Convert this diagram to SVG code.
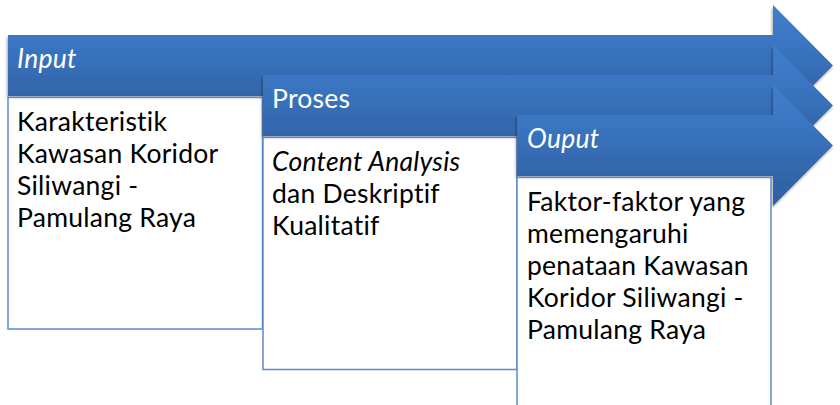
<svg xmlns="http://www.w3.org/2000/svg" width="840" height="405" viewBox="0 0 840 405">
  <defs>
    <linearGradient id="blueGrad" x1="0" y1="0" x2="0" y2="1">
      <stop offset="0" stop-color="#3F7ECC"/>
      <stop offset="0.3" stop-color="#3A76C3"/>
      <stop offset="0.7" stop-color="#3467AC"/>
      <stop offset="1" stop-color="#2F5F9F"/>
    </linearGradient>
    <filter id="shadow" x="-5%" y="-10%" width="110%" height="130%">
      <feDropShadow dx="-1" dy="2" stdDeviation="1.5" flood-color="#000" flood-opacity="0.35"/>
    </filter>
    <style>
      .arrow { fill: url(#blueGrad); filter: url(#shadow); }
      .box { fill: #FFFFFF; stroke: #5B8BCA; stroke-width: 1.5; }
      .head, .body { font-family: Lato, "Open Sans", sans-serif; font-size: 26.5px; letter-spacing: 0.25px; font-variant-ligatures: none; font-feature-settings: "liga" 0, "clig" 0; }
      .head { fill: #FFFFFF; }
      .body { fill: #000000; }
      .it { font-style: italic; }
    </style>
  </defs>

  <g id="input">
    <path class="arrow" d="M8,35 H773 V5 L833,65.5 L773,126 V96 H8 Z"/>
    <rect class="box" x="8" y="97.5" width="254.5" height="231.5"/>
    <text class="head it" x="17" y="68">Input</text>
    <text class="body" x="17" y="131">
      <tspan x="17" y="131">Karakteristik</tspan>
      <tspan x="17" y="163">Kawasan Koridor</tspan>
      <tspan x="17" y="195">Siliwangi -</tspan>
      <tspan x="17" y="227">Pamulang Raya</tspan>
    </text>
  </g>

  <g id="proses">
    <path class="arrow" d="M263,75 H773 V45 L833,105.5 L773,166 V136 H263 Z"/>
    <rect class="box" x="263" y="137.5" width="254" height="232"/>
    <text class="head" x="272" y="108">Proses</text>
    <text class="body" x="272" y="171">
      <tspan x="272" y="171" class="it">Content Analysis</tspan>
      <tspan x="272" y="203">dan Deskriptif</tspan>
      <tspan x="272" y="235">Kualitatif</tspan>
    </text>
  </g>

  <g id="output">
    <path class="arrow" d="M517,115 H773 V85 L833,145.5 L773,206 V176 H517 Z"/>
    <rect class="box" x="517" y="177.5" width="254" height="240"/>
    <text class="head it" x="527" y="148">Ouput</text>
    <text class="body" x="527" y="211">
      <tspan x="527" y="211">Faktor-faktor yang</tspan>
      <tspan x="527" y="243">memengaruhi</tspan>
      <tspan x="527" y="275">penataan Kawasan</tspan>
      <tspan x="527" y="307">Koridor Siliwangi -</tspan>
      <tspan x="527" y="339">Pamulang Raya</tspan>
    </text>
  </g>

  <g id="connectors"></g>
</svg>
